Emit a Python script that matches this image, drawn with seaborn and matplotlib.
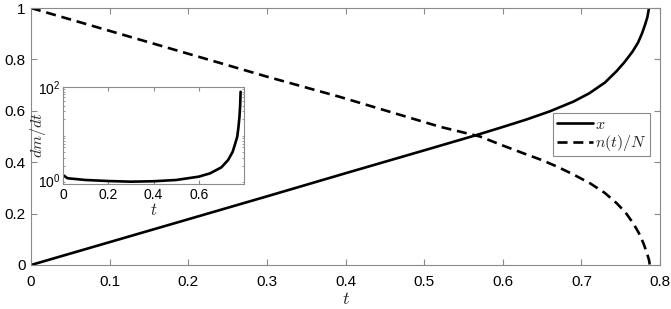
import matplotlib
matplotlib.use("Agg")
import matplotlib.pyplot as plt
import seaborn as sns
import numpy as np
import pandas as pd
from matplotlib.ticker import LogLocator, NullFormatter, FixedLocator

# ---- data ----
t_x = [0, 0.1, 0.2, 0.3, 0.4, 0.5, 0.567, 0.6, 0.63, 0.66, 0.69, 0.71, 0.73, 0.745,
       0.755, 0.765, 0.772, 0.777, 0.781, 0.784, 0.786]
x_vals = [0, 0.089, 0.178, 0.267, 0.357, 0.446, 0.506, 0.537, 0.566, 0.598, 0.636, 0.668, 0.71, 0.755,
          0.79, 0.83, 0.865, 0.90, 0.935, 0.965, 1.0]

t_n = [0, 0.1, 0.2, 0.3, 0.393, 0.52, 0.571, 0.6, 0.626, 0.65, 0.669, 0.69, 0.711, 0.73,
       0.745, 0.756, 0.766, 0.773, 0.779, 0.783, 0.786, 0.787]
n_vals = [1, 0.911, 0.822, 0.733, 0.654, 0.538, 0.50, 0.465, 0.435, 0.408, 0.383, 0.352, 0.318, 0.28,
          0.24, 0.205, 0.162, 0.125, 0.084, 0.05, 0.02, 0.0]

t_in = [0, 0.02, 0.1, 0.2, 0.3, 0.4, 0.5, 0.6, 0.65, 0.7, 0.73, 0.75, 0.76, 0.77, 0.775, 0.78, 0.783, 0.785]
dmdt = [1.28, 1.09, 1.0, 0.95, 0.92, 0.94, 1.0, 1.18, 1.39, 1.87, 2.7, 4.06, 5.8, 8.5, 13, 23, 40, 79]

main_xticks = [0, 0.1, 0.2, 0.3, 0.4, 0.5, 0.6, 0.7, 0.8]
main_xticklabels = ["0", "0.1", "0.2", "0.3", "0.4", "0.5", "0.6", "0.7", "0.8"]
main_yticks = [0, 0.2, 0.4, 0.6, 0.8, 1]
main_yticklabels = ["0", "0.2", "0.4", "0.6", "0.8", "1"]
in_xticks = [0, 0.2, 0.4, 0.6]
in_xticklabels = ["0", "0.2", "0.4", "0.6"]

sns.set_style("ticks")
plt.rcParams["font.family"] = ["Liberation Sans", "DejaVu Sans"]
plt.rcParams["mathtext.fontset"] = "cm"

spine_c = "#8a8a8a"
dash = [3.8, 2.2]

fig = plt.figure(figsize=(6.71, 3.09), dpi=100)
ax = fig.add_axes([31/671, 1-265/309, 629/671, 257/309])

df_x = pd.DataFrame({"t": t_x, "v": x_vals})
df_n = pd.DataFrame({"t": t_n, "v": n_vals})
sns.lineplot(data=df_x, x="t", y="v", ax=ax, color="black", lw=1.9, estimator=None, sort=False, label="$x$")
sns.lineplot(data=df_n, x="t", y="v", ax=ax, color="black", lw=1.9, estimator=None, sort=False, label="$n(t)/N$")
ax.lines[1].set_dashes(dash)
for ln in ax.lines:
    ln.set_solid_joinstyle("round")

ax.set_xlim(0, 0.8)
ax.set_ylim(0, 1)
ax.set_xticks(main_xticks)
ax.set_xticklabels(main_xticklabels)
ax.set_yticks(main_yticks)
ax.set_yticklabels(main_yticklabels)
ax.set_xlabel("$t$", fontsize=13, labelpad=2)
ax.set_ylabel("")
for s in ax.spines.values():
    s.set_visible(True)
    s.set_color(spine_c)
    s.set_linewidth(0.8)
ax.tick_params(direction="in", length=4, width=0.8, color=spine_c, top=True, right=True,
               labelsize=11, labelcolor="black")
ax.tick_params(axis="x", pad=7)
ax.tick_params(axis="y", pad=4)

leg = ax.legend(loc="center right", bbox_to_anchor=(0.984, 0.506), borderaxespad=0,
                fancybox=False, edgecolor=spine_c, framealpha=1, fontsize=11.5,
                handlelength=2.3, handletextpad=0.1, borderpad=0.2, labelspacing=0.1)
leg.get_frame().set_linewidth(0.8)
leg.get_lines()[1].set_dashes(dash)

# ---- inset ----
axi = fig.add_axes([63/671, 1-184/309, 181/671, 97/309])
df_in = pd.DataFrame({"t": t_in, "v": dmdt})
sns.lineplot(data=df_in, x="t", y="v", ax=axi, color="black", lw=1.9, estimator=None, sort=False)
axi.lines[0].set_solid_joinstyle("round")
axi.set_yscale("log")
axi.set_xlim(0, 0.8)
axi.set_ylim(0.82, 100)
axi.set_xticks(in_xticks)
axi.set_xticklabels(in_xticklabels)
axi.yaxis.set_major_locator(FixedLocator([1, 100]))
axi.yaxis.set_minor_locator(LogLocator(base=10, subs=np.arange(2, 10)))
axi.yaxis.set_minor_formatter(NullFormatter())
axi.set_xlabel("$t$", fontsize=12, labelpad=0)
axi.set_ylabel("$dm/dt$", fontsize=11.5)
axi.yaxis.set_label_coords(-0.085, 0.5)
for s in axi.spines.values():
    s.set_visible(True)
    s.set_color(spine_c)
    s.set_linewidth(0.8)
axi.tick_params(which="both", direction="in", color=spine_c, top=True, right=True,
                labelsize=10, labelcolor="black", pad=3)
axi.tick_params(which="major", length=3)
axi.tick_params(which="minor", length=1.5)
axi.tick_params(axis="y", which="major", length=0, pad=2)

fig.savefig("out.png", dpi=100)
